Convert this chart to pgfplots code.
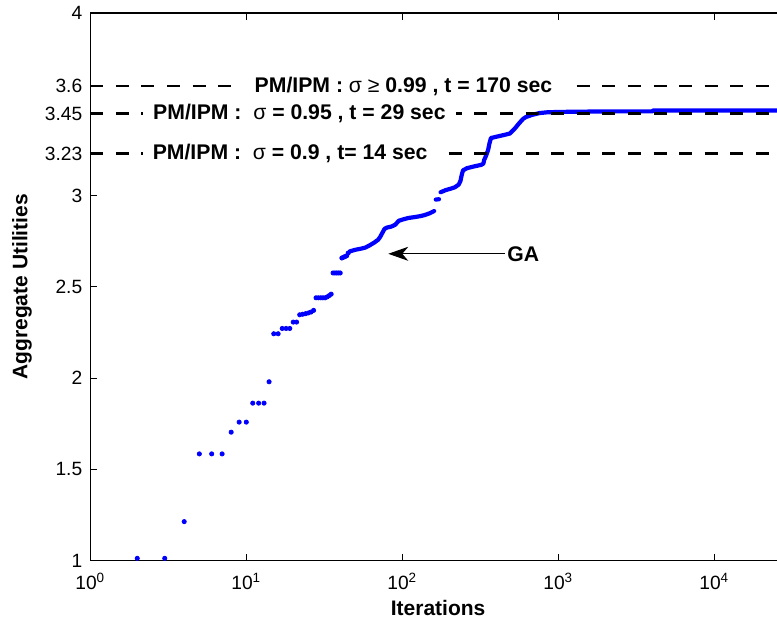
\documentclass[border=0pt]{standalone}
\usepackage{fontspec}
\setmainfont{Liberation Sans}
\usepackage{pgfplots}
\pgfplotsset{compat=1.18}
\usetikzlibrary{calc,arrows.meta}
\definecolor{gablue}{RGB}{0,0,255}
\begin{document}
\begin{tikzpicture}
\begin{axis}[
  scale only axis, width=349.2pt, height=273.85pt,
  xmode=log, log basis x=10,
  xmin=1, xmax=30000, ymin=1, ymax=4,
  xtick={1,10,100,1000,10000},
  xticklabels={10\textsuperscript{0},10\textsuperscript{1},10\textsuperscript{2},10\textsuperscript{3},10\textsuperscript{4}},
  ytick={1,1.5,2,2.5,3,3.23,3.45,3.6,4},
  yticklabels={1,1.5,2,2.5,3,3.23,3.45,3.6,4},
  tick align=inside,
  major tick length=3.5pt, minor tick length=2pt,
  axis line style={line width=0.6pt},
  every tick/.style={line width=0.5pt,black},
  ticklabel style={font=\fontsize{9.6}{11}\selectfont},
  xticklabel style={yshift=-2.5pt},
  yticklabel style={xshift=-0.5pt},
  xlabel={Iterations}, ylabel={Aggregate Utilities},
  label style={font=\fontsize{10.5}{12}\selectfont\bfseries},
  ylabel style={at={(axis description cs:-0.0978,0.5)}, anchor=center},
  xlabel style={at={(axis description cs:0.498,-0.0862)}, anchor=center},
  clip=false,
]
% GA discrete points
\addplot[only marks, mark=*, mark size=1.05pt, color=gablue] coordinates {
(2,1.013)(3,1.013)(4,1.214)(5,1.585)(6,1.585)(7,1.585)(8,1.704)(9,1.759)(10,1.759)
(11,1.863)(12,1.863)(13,1.863)(14,1.98)(15,2.243)(16,2.243)(17,2.272)(18,2.272)(19,2.272)
(20,2.307)(21,2.307)(22,2.347)(23,2.350)(24,2.353)(25,2.357)(26,2.362)(27,2.371)
(28,2.440)(29,2.440)(30,2.440)(31,2.440)(32,2.440)(33,2.445)(34,2.452)(35,2.460)
(36,2.576)(37,2.576)(38,2.576)(39,2.576)(40,2.576)(41,2.658)(42,2.662)(43,2.666)(44,2.670)(45,2.685)
};
% GA dense trace
\addplot[color=gablue, line width=2.1pt, line cap=round, line join=round, unbounded coords=jump] coordinates {
(46,2.694)(50,2.703)(55,2.710)(58,2.715)(62,2.728)(66,2.742)(70,2.758)(72,2.772)(75,2.800)(77,2.818)
(80,2.825)(85,2.830)(90,2.840)(95,2.862)(100,2.868)(109,2.877)(120,2.882)(130,2.887)(139,2.893)(150,2.903)(160,2.915)
(161,nan)
(164,2.978)(172,2.980)
(174,nan)
(176,3.018)(190,3.030)(205,3.038)(217,3.045)(230,3.060)(236,3.080)(240,3.110)(245,3.138)(260,3.150)(290,3.160)(320,3.168)(331,3.175)
(335,3.195)(345,3.22)(355,3.25)(362,3.285)(370,3.315)(400,3.322)(450,3.332)(490,3.340)(505,3.352)(530,3.370)(560,3.395)(595,3.420)
(620,3.430)(680,3.442)(760,3.452)(850,3.456)(1000,3.458)(2000,3.461)(4000,3.461)(4050,3.466)(30000,3.466)
};
% reference levels
\addplot[black, line width=1.1pt, dash pattern=on 6.5pt off 6.3pt] coordinates {(1,3.6)(30000,3.6)};
\addplot[black, line width=1.1pt, dash pattern=on 6.5pt off 6.3pt] coordinates {(1,3.45)(30000,3.45)};
\addplot[black, line width=1.1pt, dash pattern=on 6.5pt off 6.3pt] coordinates {(1,3.23)(30000,3.23)};
\node[fill=white, inner xsep=8pt, inner ysep=1pt, font=\fontsize{10.6}{12}\selectfont\bfseries] at (axis cs:101.8,3.6)
  {PM/IPM : {\mdseries σ ≥} 0.99 , t = 170 sec};
\node[fill=white, inner xsep=5pt, inner ysep=1pt, font=\fontsize{10.6}{12}\selectfont\bfseries] at (axis cs:21.9,3.45)
  {PM/IPM :\ \ {\mdseries σ} = 0.95 , t = 29 sec};
\node[fill=white, inner xsep=5pt, inner ysep=1pt, font=\fontsize{10.6}{12}\selectfont\bfseries] at (axis cs:19.1,3.23)
  {PM/IPM :\ \ {\mdseries σ} = 0.9 , t= 14 sec};
\draw[black, line width=0.5pt, -{Stealth[length=10pt,width=7pt,inset=3pt]}] (axis cs:455,2.681) -- (axis cs:81.3,2.681);
\node[anchor=west, inner sep=0pt, font=\fontsize{10.6}{12}\selectfont\bfseries] at (axis cs:469,2.681) {GA};
\end{axis}
\pgfresetboundingbox
\path[use as bounding box] ($(current axis.south west)+(-45.15pt,-32.15pt)$) rectangle ($(current axis.south west)+(343.35pt,280.35pt)$);
\end{tikzpicture}
\end{document}
